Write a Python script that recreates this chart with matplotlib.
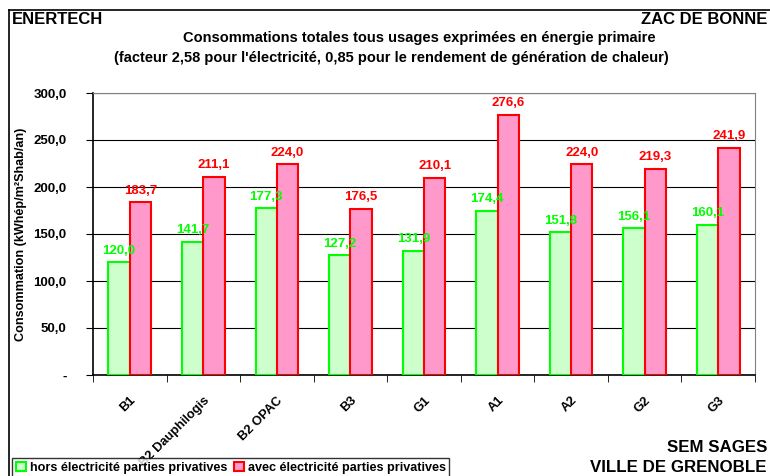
import matplotlib
matplotlib.use('Agg')
import matplotlib.pyplot as plt
import numpy as np

plt.rcParams['font.family'] = ['Liberation Sans', 'DejaVu Sans']
plt.rcParams['font.weight'] = 'bold'

categories = ['B1', 'B2 Dauphilogis', 'B2 OPAC', 'B3', 'G1', 'A1', 'A2', 'G2', 'G3']
hors_elec = [120.0, 141.7, 177.3, 127.2, 131.9, 174.4, 151.8, 156.1, 160.1]
avec_elec = [183.7, 211.1, 224.0, 176.5, 210.1, 276.6, 224.0, 219.3, 241.9]
y_ticks = [0, 50, 100, 150, 200, 250, 300]
y_labels = ['-', '50,0', '100,0', '150,0', '200,0', '250,0', '300,0']

W, H = 770, 476
fig = plt.figure(figsize=(W / 100, H / 100), dpi=100)
ax = fig.add_axes([93 / W, 1 - 375 / H, (755 - 93) / W, (375 - 93) / H])

x = np.arange(len(categories))
w = 0.29
b1 = ax.bar(x - w / 2, hors_elec, w, color='#CCFFCC', edgecolor='#00FF00',
            linewidth=1.5, label='hors électricité parties privatives', zorder=3)
b2 = ax.bar(x + w / 2, avec_elec, w, color='#FF99CC', edgecolor='#FF0000',
            linewidth=1.5, label='avec électricité parties privatives', zorder=3)

for xi, v in zip(x, hors_elec):
    ax.text(xi - w / 2, v + 6, f'{v:.1f}'.replace('.', ','), ha='center', va='bottom',
            color='#00FF00', fontsize=9.5, fontweight='bold', zorder=4)
for xi, v in zip(x, avec_elec):
    ax.text(xi + w / 2, v + 6, f'{v:.1f}'.replace('.', ','), ha='center', va='bottom',
            color='#FF0000', fontsize=9.5, fontweight='bold', zorder=4)

ax.set_xlim(-0.5, len(categories) - 0.5)
ax.set_ylim(0, 300)
ax.set_yticks(y_ticks)
ax.set_yticklabels(y_labels, fontsize=9.5, fontweight='bold')
ax.yaxis.grid(True, color='black', linewidth=0.8, zorder=0)
ax.set_xticks(x)
ax.set_xticklabels(categories, rotation=45, ha='right', rotation_mode='anchor',
                   fontsize=9.3, fontweight='bold')
ax.tick_params(axis='x', length=0, pad=14)
ax.set_xticks(np.arange(-0.5, len(categories), 1), minor=True)
ax.tick_params(axis='x', which='minor', length=5, direction='out', color='black')
ax.tick_params(axis='y', length=5, direction='out', pad=14)
for side in ['top', 'right']:
    ax.spines[side].set_color('#808080')
for side in ['left', 'bottom']:
    ax.spines[side].set_color('black')
    ax.spines[side].set_linewidth(1.2)

ax.set_ylabel('Consommation (kWhép/m²Shab/an)', fontsize=9.1, fontweight='bold')
ax.yaxis.set_label_coords(-0.1, 0.5)

# cadre exterieur
fig.add_artist(plt.Line2D([9 / W, 1], [1 - 10 / H, 1 - 10 / H], color='black', lw=1.2,
                          transform=fig.transFigure))
fig.add_artist(plt.Line2D([9 / W, 9 / W], [0, 1 - 10 / H], color='black', lw=1.2,
                          transform=fig.transFigure))

fig.text(12 / W, 1 - 19 / H, 'ENERTECH', fontsize=12, fontweight='bold', va='center', ha='left')
fig.text(767 / W, 1 - 19 / H, 'ZAC DE BONNE', fontsize=12, fontweight='bold', va='center', ha='right')
fig.text(419 / W, 1 - 38 / H, 'Consommations totales tous usages exprimées en énergie primaire',
         fontsize=10.5, fontweight='bold', va='center', ha='center')
fig.text(391 / W, 1 - 58 / H,
         "(facteur 2,58 pour l'électricité, 0,85 pour le rendement de génération de chaleur)",
         fontsize=10.5, fontweight='bold', va='center', ha='center')
fig.text(767 / W, 1 - 447 / H, 'SEM SAGES', fontsize=12.2, fontweight='bold', va='center', ha='right')
fig.text(767 / W, 1 - 468 / H, 'VILLE DE GRENOBLE', fontsize=12.2, fontweight='bold', va='center', ha='right')

leg = fig.legend(handles=[b1, b2], loc='lower left', bbox_to_anchor=(6 / W, -8 / H),
                 ncol=2, frameon=True, fancybox=False, edgecolor='black',
                 handlelength=0.8, handleheight=0.8, handletextpad=0.3, columnspacing=0.5,
                 borderpad=0.3, prop={'weight': 'bold', 'size': 9.1})
leg.get_frame().set_linewidth(1.0)

fig.savefig('out.png', dpi=100)
